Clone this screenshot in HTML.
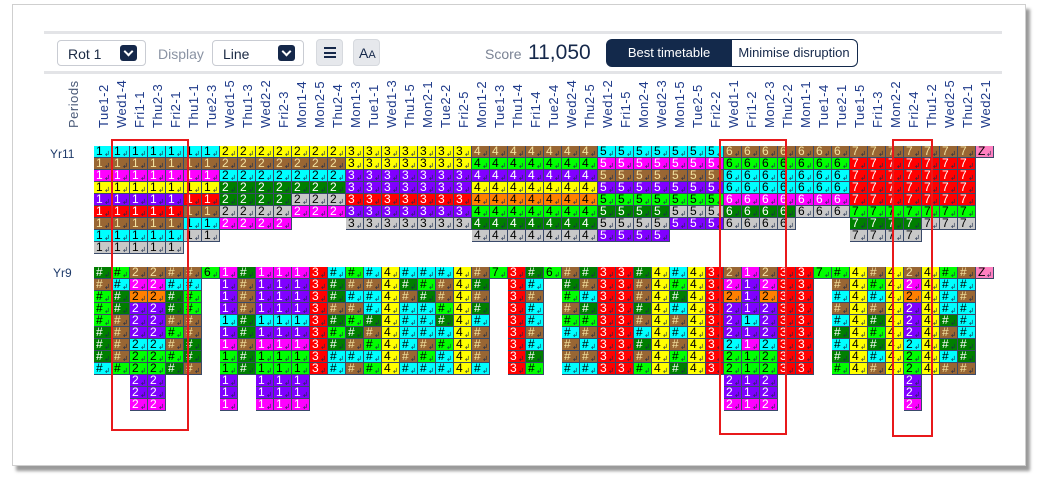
<!DOCTYPE html>
<html><head><meta charset="utf-8"><style>
body{margin:0;width:1044px;height:486px;background:#fff;font-family:"Liberation Sans",sans-serif;position:relative;overflow:hidden}
#panel{position:absolute;left:12px;top:4px;width:1012px;height:460px;background:#fff;border:1px solid #cfcfcf;box-shadow:4px 5px 3px #9a9a9a}
.abs{position:absolute}
.sel{position:absolute;height:26px;border:1px solid #c9ccd3;border-radius:4px;background:#fff;font-size:14px;color:#1b2a44;box-sizing:border-box;padding:5px 0 0 10px}
.sel i{position:absolute;right:8px;top:4px;width:17px;height:16px;background:#15284a;border-radius:3px}
.sel i:after{content:"";position:absolute;left:5px;top:3px;width:5px;height:5px;border-right:2px solid #fff;border-bottom:2px solid #fff;transform:rotate(45deg)}
.btn{position:absolute;top:39px;width:27px;height:27px;background:#e6e8ec;border-radius:4px;border:1px solid #d6d9de;box-sizing:border-box}
.hd{position:absolute;top:128px;transform-origin:0 0;transform:rotate(-90deg);font-size:13px;color:#1e3a8a;white-space:nowrap;letter-spacing:0.5px}
.c{position:absolute;width:18px;height:12px;box-sizing:border-box;border-right:1px solid #3a4a6a;border-bottom:1px solid #3a4a6a;font-size:12px;line-height:11px;padding-left:2px;overflow:hidden}
.c s{text-decoration:none;position:absolute;right:1px;top:3px;font-size:7px;color:#1a2a4a}
.rr{position:absolute;border:2px solid #e8191b;box-sizing:border-box}
</style></head><body>
<div id="panel"></div>
<div class="abs" style="left:44px;top:31px;width:958px;height:3px;background:#e3e4e7"></div>
<div class="abs" style="left:44px;top:71px;width:958px;height:3px;background:#e3e4e7"></div>
<div class="sel" style="left:57px;top:40px;width:89px">Rot 1<i></i></div>
<div class="abs" style="left:158px;top:46px;font-size:14px;color:#8a93a3">Display</div>
<div class="sel" style="left:212px;top:40px;width:92px">Line<i></i></div>
<div class="btn" style="left:316px"><div class="abs" style="left:7px;top:7px;width:12px;height:11px;border-top:2px solid #15284a;border-bottom:2px solid #15284a;box-sizing:border-box"></div><div class="abs" style="left:7px;top:12px;width:12px;height:2px;background:#15284a"></div></div>
<div class="btn" style="left:353px"><span class="abs" style="left:5px;top:5px;font-size:14px;color:#15284a">A<span style="font-size:11px">A</span></span></div>
<div class="abs" style="left:485px;top:46px;font-size:14px;color:#7a8394">Score</div>
<div class="abs" style="left:528px;top:41px;font-size:21px;color:#15284a">11,050</div>
<div class="abs" style="left:606px;top:39px;width:126px;height:28px;background:#13294b;border-radius:6px 0 0 6px;color:#fff;font-size:13px;text-align:center;line-height:28px">Best timetable</div>
<div class="abs" style="left:731px;top:39px;width:127px;height:28px;border:1px solid #13294b;border-left:none;border-radius:0 6px 6px 0;box-sizing:border-box;color:#15284a;font-size:13px;text-align:center;line-height:26px">Minimise disruption</div>
<div class="hd" style="left:66px;color:#4a5a78">Periods</div>
<div class="abs" style="left:50px;top:147px;font-size:12px;color:#1e3a6a">Yr11</div>
<div class="abs" style="left:53px;top:266px;font-size:12px;color:#1e3a6a">Yr9</div>
<div id="g"></div>
<div class="rr" style="left:111px;top:139px;width:78px;height:292px"></div>
<div class="rr" style="left:719px;top:139px;width:68px;height:296px"></div>
<div class="rr" style="left:892px;top:139px;width:41px;height:298px"></div>
<script>
var L="Tue1-2 Wed1-4 Fri1-1 Thu2-3 Fri2-1 Thu1-1 Tue2-3 Wed1-5 Thu1-3 Wed2-2 Fri2-3 Mon1-4 Mon2-5 Thu2-4 Mon1-3 Tue1-1 Wed1-3 Thu1-5 Mon2-1 Tue2-2 Fri2-5 Mon1-2 Tue1-3 Thu1-4 Fri1-4 Tue2-4 Wed2-4 Thu2-5 Wed1-2 Fri1-5 Mon2-4 Wed2-3 Mon1-5 Tue2-5 Fri2-2 Wed1-1 Fri1-2 Mon2-3 Thu2-2 Mon1-1 Tue1-4 Tue2-1 Tue1-5 Fri1-3 Mon2-2 Fri2-4 Thu1-2 Wed2-5 Thu2-1 Wed2-1".split(" ");
var C={c:"#00ffff",b:"#996633",m:"#ff00ff",y:"#ffff00",p:"#8000ff",r:"#ff0000",g:"#c8c8c8",d:"#007f00",G:"#00ff00",o:"#ff8000",k:"#ff80c0"};
var W={p:1,r:1,d:1,b:1,m:1};
var h="";
for(var i=0;i<50;i++)h+='<div class="hd" style="left:'+(96+18*i)+'px">'+L[i]+'</div>';
function cell(x,y,col,t){h+='<div class="c" style="left:'+x+'px;top:'+y+'px;background:'+C[col]+';color:'+(W[col]?(col=='b'?'#f3e3a0':'#fff'):'#000')+'">'+t+'<s>↲</s></div>';}
var Y11=[
"cccccccyyyyyyyyyyyyyybbbbbbbcccccccbbbbbbbbbbbbbbk",
"bbbbbbbbbbbbbbyyyyyyyGGGGGGGmmmmmmmGGGGGGGrrrrrrr.",
"mmmmmmmcccccccppppppppppppppbbbbbbbcccccccrrrrrrr.",
"yyyyyyydddddddpppppppyyyyyyypppppppcccccccrrrrrrr.",
"ppppprrddddgggrrrrrrroooooooGGGGGGGmmmmmmmrrrrrrr.",
"rrrrrbbggggmmmpppppppGGGGGGGddddgggddddgggGGGGGGG.",
"bbbbbccmmmm...gggggggdddddddggggpppgggg...ddddggg.",
"cccccgg..............gggggggpppp..........gggg....",
"ggggg............................................."];
var lab11="11111112222222333333344444445555555666666677777777Z";
for(var r=0;r<9;r++)for(var i=0;i<50;i++){var k=Y11[r][i];if(k&&k!='.')cell(94+18*i,146+12*r,k,i==49?'Z':lab11[i]);}
var T="bmopppcGGppm";
var Y9=[
["#","dbGGGdddc"],["#","GcddbbbbG"],["2",T],["2",T],["#","bcddbGbGd"],["#","bcGGbbddb"],["6","G"],
["1","mpppcpmGGppm"],["#","dbbbddbdd"],["1","mpppcpmGGppm"],["1","mpppcpmGGppm"],["1","mpppcpmGGppm"],
["3","rrrrrrrrr"],["#","cddbdGdcc"],["#","GbcbGdbcb"],["#","cbccdbGcG"],["4","yyyyyyyyy"],
["#","cdbccccbc"],["#","cGdcccbGc"],["#","cbbGdcGcc"],["4","yyyyyyyyy"],["#","bdbdcbbbc"],["7","G"],
["3","rrrrrrrrr"],["#","dcbccbcdG"],["6","G"],["#","bdGbGcbbc"],["#","dbcdGbcbc"],["3","rrrrrrrrr"],["3","rrrrrrrrr"],
["#","dbbdbcdbG"],["4","yyyyyyyyy"],["#","cGdcbcbGd"],["4","yyyyyyyyy"],["3","rrrrrrrrr"],
["2",T],["1","mpppcpmGGppm"],["2",T],["3","rrrrrrrrr"],["3","rrrrrrrrr"],["7","G"],
["#","GbcbcdcdG"],["4","yyyyyyyyy"],["#","bGcbdGdcb"],["4","yyyyyyyyy"],["2",T],["4","yyyyyyyyy"],
["#","Gcccdbdcb"],["#","bcbcccddb"],["Z","k"]];
for(var i=0;i<50;i++){var s=Y9[i][1];for(var r=0;r<s.length;r++)cell(94+18*i,267+12*r,s[r],Y9[i][0]);}
document.getElementById("g").innerHTML=h;
</script>
</body></html>
